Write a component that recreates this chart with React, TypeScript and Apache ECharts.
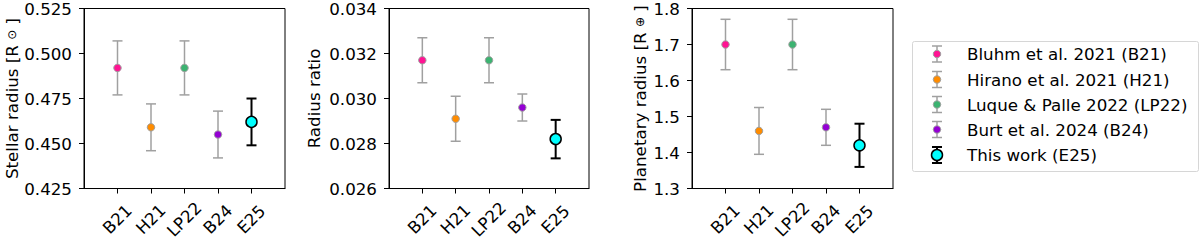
import React, { useEffect, useRef } from "react";
import * as echarts from "echarts";

const categories = ["B21", "H21", "LP22", "B24", "E25"];
const studies = [
  "Bluhm et al. 2021 (B21)",
  "Hirano et al. 2021 (H21)",
  "Luque & Palle 2022 (LP22)",
  "Burt et al. 2024 (B24)",
  "This work (E25)",
];
const pointColors = ["#ff1493", "#ff8c00", "#3cb371", "#9400d3", "#00ffff"];

const stellarRadius = [0.492, 0.459, 0.492, 0.455, 0.462];
const stellarRadiusErrLow = [0.015, 0.013, 0.015, 0.013, 0.013];
const stellarRadiusErrHigh = [0.015, 0.013, 0.015, 0.013, 0.013];

const radiusRatio = [0.0317, 0.0291, 0.0317, 0.0296, 0.0282];
const radiusRatioErrLow = [0.001, 0.001, 0.001, 0.0006, 0.00086];
const radiusRatioErrHigh = [0.001, 0.001, 0.001, 0.0006, 0.00085];

const planetRadius = [1.7, 1.46, 1.7, 1.47, 1.42];
const planetRadiusErrLow = [0.07, 0.065, 0.07, 0.05, 0.06];
const planetRadiusErrHigh = [0.07, 0.065, 0.07, 0.05, 0.06];

const FONT = "DejaVu Sans";
const FS = 16.7;
const GRAY = "#a0a0a0";
const HIGHLIGHT = 4;

type Panel = {
  left: number;
  width: number;
  values: number[];
  lo: number[];
  hi: number[];
  min: number;
  max: number;
  interval: number;
  digits: number;
  name: string;
  nameGap: number;
};

const panels: Panel[] = [
  {
    left: 84, width: 201, values: stellarRadius, lo: stellarRadiusErrLow, hi: stellarRadiusErrHigh,
    min: 0.425, max: 0.525, interval: 0.025, digits: 3,
    name: "Stellar radius [R {s|⊙} ]", nameGap: 64,
  },
  {
    left: 389, width: 200, values: radiusRatio, lo: radiusRatioErrLow, hi: radiusRatioErrHigh,
    min: 0.026, max: 0.034, interval: 0.002, digits: 3,
    name: "Radius ratio", nameGap: 67,
  },
  {
    left: 692, width: 201, values: planetRadius, lo: planetRadiusErrLow, hi: planetRadiusErrHigh,
    min: 1.3, max: 1.8, interval: 0.1, digits: 1,
    name: "Planetary radius [R {s|⊕} ]", nameGap: 44,
  },
];

function buildOption() {
  const grid: any[] = [];
  const xAxis: any[] = [];
  const yAxis: any[] = [];
  const series: any[] = [];
  panels.forEach((p, gi) => {
    grid.push({
      left: p.left, top: 6, width: p.width, height: 186,
      show: true, borderColor: "#000", borderWidth: 1, backgroundColor: "transparent",
    });
    xAxis.push({
      type: "value", gridIndex: gi, min: -1, max: 5, interval: 1,
      axisLine: { show: true, onZero: false, lineStyle: { color: "#000", width: 1 } },
      axisTick: { show: true, length: 5, customValues: [0, 1, 2, 3, 4], lineStyle: { color: "#000" } },
      axisLabel: {
        customValues: [0, 1, 2, 3, 4],
        formatter: (v: number) => categories[Math.round(v)] ?? "",
        rotate: 45, align: "center", verticalAlign: "middle", margin: 31,
        color: "#000", fontFamily: FONT, fontSize: FS,
      },
      splitLine: { show: false },
    });
    yAxis.push({
      type: "value", gridIndex: gi, min: p.min, max: p.max, interval: p.interval,
      axisLine: { show: true, onZero: false, lineStyle: { color: "#000", width: 1 } },
      axisTick: { show: true, length: 5, lineStyle: { color: "#000" } },
      axisLabel: {
        formatter: (v: number) => v.toFixed(p.digits),
        margin: 12, color: "#000", fontFamily: FONT, fontSize: FS,
      },
      splitLine: { show: false },
      name: p.name, nameLocation: "middle", nameGap: p.nameGap, nameRotate: 90,
      nameTextStyle: {
        color: "#000", fontFamily: FONT, fontSize: FS,
        rich: { s: { fontSize: 12, fontFamily: FONT, color: "#000" } },
      },
    });
    const errData = p.values.map((v, i) => [i, v, v - p.lo[i], v + p.hi[i]]);
    series.push({
      type: "custom", xAxisIndex: gi, yAxisIndex: gi, z: 2,
      data: errData,
      encode: { x: 0, y: [1, 2, 3] },
      renderItem: (params: any, api: any) => {
        const x = api.value(0);
        const a = api.coord([x, api.value(2)]);
        const b = api.coord([x, api.value(3)]);
        const hl = params.dataIndex === HIGHLIGHT;
        const stroke = hl ? "#000" : GRAY;
        const lw = hl ? 2 : 1.5;
        const cap = 5;
        const style = { stroke, lineWidth: lw };
        return {
          type: "group",
          children: [
            { type: "line", shape: { x1: a[0], y1: a[1], x2: b[0], y2: b[1] }, style },
            { type: "line", shape: { x1: a[0] - cap, y1: a[1], x2: a[0] + cap, y2: a[1] }, style },
            { type: "line", shape: { x1: b[0] - cap, y1: b[1], x2: b[0] + cap, y2: b[1] }, style },
          ],
        };
      },
    });
    series.push({
      type: "scatter", xAxisIndex: gi, yAxisIndex: gi, z: 3,
      symbol: "circle",
      data: p.values.map((v, i) => {
        const hl = i === HIGHLIGHT;
        return {
          value: [i, v],
          symbolSize: hl ? 11 : 7.5,
          itemStyle: {
            color: pointColors[i],
            borderColor: hl ? "#000" : GRAY,
            borderWidth: hl ? 1.5 : 1,
            opacity: 1,
          },
        };
      }),
    });
  });

  // legend
  const legendChildren: any[] = [
    {
      type: "rect",
      shape: { x: 912.5, y: 41.5, width: 286, height: 130, r: 2 },
      style: { fill: "#fff", stroke: "#d6d6d6", lineWidth: 1 },
    },
  ];
  const rowY = [54, 79.5, 104.5, 129.5, 155];
  studies.forEach((label, i) => {
    const y = rowY[i];
    const hl = i === HIGHLIGHT;
    const stroke = hl ? "#000" : GRAY;
    const lw = hl ? 2 : 1.5;
    const cx = 937;
    const half = 8;
    legendChildren.push(
      { type: "line", shape: { x1: cx, y1: y - half, x2: cx, y2: y + half }, style: { stroke, lineWidth: lw } },
      { type: "line", shape: { x1: cx - 5, y1: y - half, x2: cx + 5, y2: y - half }, style: { stroke, lineWidth: lw } },
      { type: "line", shape: { x1: cx - 5, y1: y + half, x2: cx + 5, y2: y + half }, style: { stroke, lineWidth: lw } },
      {
        type: "circle",
        shape: { cx, cy: y, r: hl ? 5.5 : 3.75 },
        style: { fill: pointColors[i], stroke: hl ? "#000" : GRAY, lineWidth: hl ? 1.5 : 1 },
      },
      {
        type: "text", x: 967, y,
        style: {
          text: label, fill: "#000", font: `${FS}px "${FONT}"`,
          textVerticalAlign: "middle", verticalAlign: "middle", align: "left",
        },
      }
    );
  });

  return {
    animation: false,
    backgroundColor: "#fff",
    grid, xAxis, yAxis, series,
    graphic: [{ type: "group", children: legendChildren }],
  };
}

export default function App() {
  const ref = useRef<HTMLDivElement>(null);
  useEffect(() => {
    if (!ref.current) return;
    const chart = echarts.init(ref.current, undefined, { renderer: "svg" });
    chart.setOption(buildOption() as any);
    return () => chart.dispose();
  }, []);
  return (
    <div
      ref={ref}
      style={{ position: "fixed", left: 0, top: 0, width: 1200, height: 242, background: "#fff" }}
    />
  );
}
